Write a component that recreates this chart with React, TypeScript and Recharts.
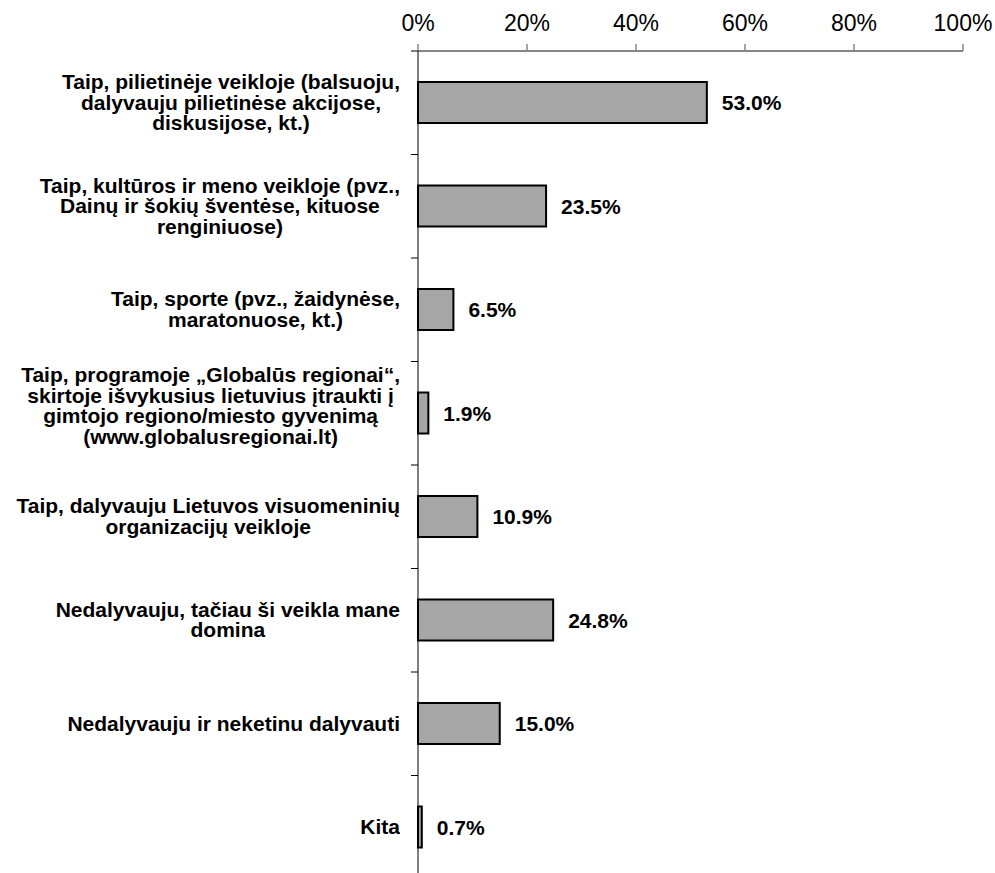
import { BarChart, Bar, XAxis, YAxis, LabelList } from 'recharts';

// Category labels, already broken into the lines shown in the chart
const labelLines: string[][] = [
  ['Taip, pilietinėje veikloje (balsuoju,', 'dalyvauju pilietinėse akcijose,', 'diskusijose, kt.)'],
  ['Taip, kultūros ir meno veikloje (pvz.,', 'Dainų ir šokių šventėse, kituose', 'renginiuose)'],
  ['Taip, sporte (pvz., žaidynėse,', 'maratonuose, kt.)'],
  ['Taip, programoje „Globalūs regionai“,', 'skirtoje išvykusius lietuvius įtraukti į', 'gimtojo regiono/miesto gyvenimą', '(www.globalusregionai.lt)'],
  ['Taip, dalyvauju Lietuvos visuomeninių', 'organizacijų veikloje'],
  ['Nedalyvauju, tačiau ši veikla mane', 'domina'],
  ['Nedalyvauju ir neketinu dalyvauti'],
  ['Kita'],
];
const categories = labelLines.map((l) => l.join(' '));
const values = [53.0, 23.5, 6.5, 1.9, 10.9, 24.8, 15.0, 0.7];
const xTicks = [0, 20, 40, 60, 80, 100];

const data = categories.map((name, i) => ({ name, value: values[i] }));

const FONT = '"Liberation Sans", Arial, sans-serif';
const CHART_W = 995;
const CHART_H = 879;
const MARGIN = { top: 8, right: 32, bottom: 0, left: 8 };
const TOP_AXIS_H = 43;
const BAND = (CHART_H - MARGIN.top - MARGIN.bottom - TOP_AXIS_H) / categories.length;
const LABEL_BOX_W = 400;

// right-aligned block, lines centred inside it (like Excel's wrapped category labels)
const CategoryTick = ({ x, y, payload }: any) => {
  const idx = categories.indexOf(payload.value);
  const lines = labelLines[idx] || [String(payload.value)];
  // the tall 4-line label sits a bit higher in the original
  const shift = lines.length > 3 ? -7 : 0;
  return (
    <g>
      {/* tick mark on the category boundary */}
      <line x1={x + 11} x2={x + 18} y1={y - BAND / 2} y2={y - BAND / 2} stroke="#000" strokeWidth={1} />
      <foreignObject x={x - LABEL_BOX_W} y={y - BAND / 2} width={LABEL_BOX_W} height={BAND}>
        <div
          style={{
            height: BAND,
            display: 'flex',
            alignItems: 'center',
            justifyContent: 'flex-end',
          }}
        >
          <div
            style={{
              position: 'relative',
              top: shift,
              textAlign: 'center',
              whiteSpace: 'nowrap',
              fontFamily: FONT,
              fontSize: 21,
              fontWeight: 'bold',
              lineHeight: '20.5px',
              color: '#000',
            }}
          >
            {lines.map((l, i) => (
              <div key={i}>{l}</div>
            ))}
          </div>
        </div>
      </foreignObject>
    </g>
  );
};

export default function App() {
  return (
    <div
      style={{
        position: 'absolute',
        left: 0,
        top: 0,
        width: CHART_W,
        height: 873,
        overflow: 'hidden',
        fontFamily: FONT,
        background: '#fff',
      }}
    >
      <BarChart
        width={CHART_W}
        height={CHART_H}
        data={data}
        layout="vertical"
        margin={MARGIN}
        barCategoryGap="30%"
      >
        <XAxis
          type="number"
          orientation="top"
          domain={[0, 100]}
          ticks={xTicks}
          tickFormatter={(v) => `${v}%`}
          height={TOP_AXIS_H}
          tickSize={7}
          tickMargin={13}
          axisLine={{ stroke: '#868686', strokeWidth: 2 }}
          tickLine={{ stroke: '#868686', strokeWidth: 1.5 }}
          tick={{ fill: '#000', fontSize: 23, fontFamily: FONT }}
          interval={0}
        />
        <YAxis
          type="category"
          dataKey="name"
          width={410}
          tickSize={7}
          tickMargin={11}
          tickLine={false}
          axisLine={{ stroke: '#000', strokeWidth: 1 }}
          tick={<CategoryTick />}
          interval={0}
        />
        <Bar dataKey="value" fill="#A6A6A6" stroke="#000" strokeWidth={2} isAnimationActive={false}>
          <LabelList
            dataKey="value"
            position="right"
            offset={15}
            formatter={(v: any) => `${Number(v).toFixed(1)}%`}
            fill="#000"
            fontSize={21}
            fontWeight="bold"
            fontFamily={FONT}
          />
        </Bar>
      </BarChart>
    </div>
  );
}
